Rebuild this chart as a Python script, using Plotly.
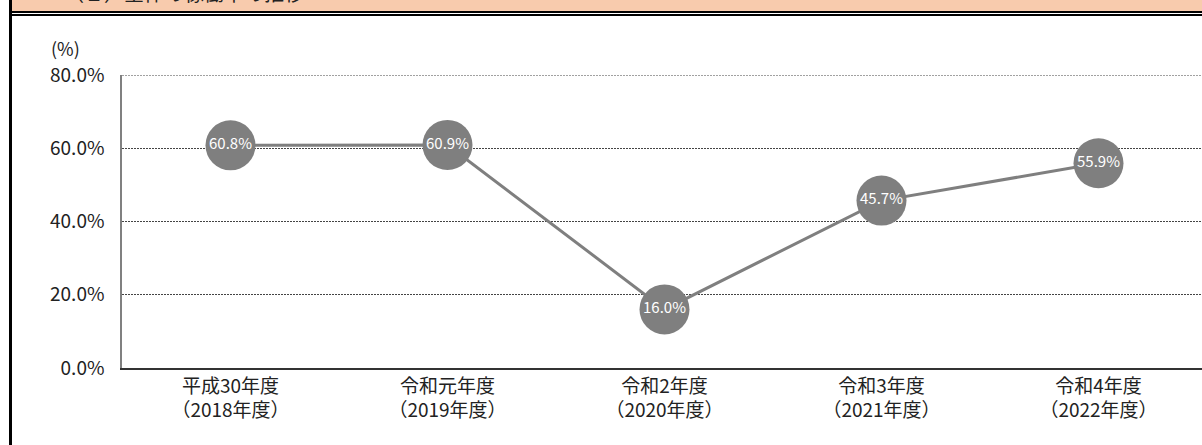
import plotly.graph_objects as go

# Fiscal-year categories (two-line labels) and utilisation rates in %
categories = ["平成30年度<br>（2018年度）", "令和元年度<br>（2019年度）", "令和2年度<br>（2020年度）",
              "令和3年度<br>（2021年度）", "令和4年度<br>（2022年度）"]
rates = [60.8, 60.9, 16.0, 45.7, 55.9]
y_ticks = [0, 20, 40, 60, 80]
y_tick_labels = ["0.0%", "20.0%", "40.0%", "60.0%", "80.0%"]

W, H = 1202, 445
ML, MR, MT, MB = 122, 0, 75, 77
PW, PH = W - ML - MR, H - MT - MB
FONT = "Noto Sans CJK JP, Noto Sans, sans-serif"
GRAY = "#7f7f7f"
GRID_COLOR = "#444444"
GRID_DASH = "2px,1px"


def px_x(x):
    return (x - ML) / PW


def px_y(y):
    return 1 - (y - MT) / PH


fig = go.Figure()
fig.add_trace(go.Scatter(
    x=list(range(len(rates))),
    y=rates,
    mode="lines+markers+text",
    line=dict(color=GRAY, width=3),
    marker=dict(size=50, color=GRAY),
    text=[f"{v:.1f}%" for v in rates],
    textposition="middle center",
    textfont=dict(color="white", size=15, family=FONT),
    cliponaxis=False,
    hoverinfo="skip",
))

shapes = [
    # header band and double rule
    dict(type="rect", xref="paper", yref="paper", x0=px_x(11), x1=px_x(W + 5),
         y0=px_y(0 - 5), y1=px_y(11), fillcolor="#f8cbad", line=dict(width=0), layer="below"),
    dict(type="rect", xref="paper", yref="paper", x0=px_x(11), x1=px_x(W + 5),
         y0=px_y(11), y1=px_y(13), fillcolor="black", line=dict(width=0)),
    dict(type="rect", xref="paper", yref="paper", x0=px_x(11), x1=px_x(W + 5),
         y0=px_y(14), y1=px_y(16), fillcolor="black", line=dict(width=0)),
    # left frame border
    dict(type="rect", xref="paper", yref="paper", x0=px_x(9), x1=px_x(12),
         y0=px_y(-5), y1=px_y(H + 5), fillcolor="black", line=dict(width=0)),
    # top gridline at the axis maximum
    dict(type="line", xref="paper", yref="y", x0=0, x1=1, y0=y_ticks[-1], y1=y_ticks[-1],
         line=dict(color=GRID_COLOR, width=1, dash=GRID_DASH), layer="below"),
]

annotations = [
    dict(text="(%)", xref="paper", yref="paper", x=px_x(49), y=px_y(48),
         xanchor="left", yanchor="middle", showarrow=False,
         font=dict(size=18, color="#222222", family=FONT)),
    dict(text="（２）全体の稼働率の推移", xref="paper", yref="paper", x=px_x(62), y=px_y(-8),
         xanchor="left", yanchor="middle", showarrow=False,
         font=dict(size=20, color="#222222", family=FONT)),
]

fig.update_layout(
    width=W, height=H,
    margin=dict(l=ML, r=MR, t=MT, b=MB, pad=0),
    paper_bgcolor="white", plot_bgcolor="white",
    showlegend=False,
    shapes=shapes,
    annotations=annotations,
    xaxis=dict(
        range=[-0.5, -0.5 + PW / 217.0],
        tickvals=list(range(len(categories))),
        ticktext=categories,
        showgrid=False, zeroline=False,
        showline=True, linecolor="#333333", linewidth=1.5,
        ticks="", tickfont=dict(size=19, color="#222222", family=FONT),
        fixedrange=True,
    ),
    yaxis=dict(
        range=[0, 80],
        tickvals=y_ticks, ticktext=y_tick_labels,
        showgrid=True, gridcolor=GRID_COLOR, gridwidth=1, griddash=GRID_DASH,
        zeroline=False,
        showline=True, linecolor="#808080", linewidth=1.5,
        ticks="", ticklabelstandoff=12,
        tickfont=dict(size=19, color="#222222", family=FONT),
        fixedrange=True,
    ),
)

fig.write_html("out.html")
